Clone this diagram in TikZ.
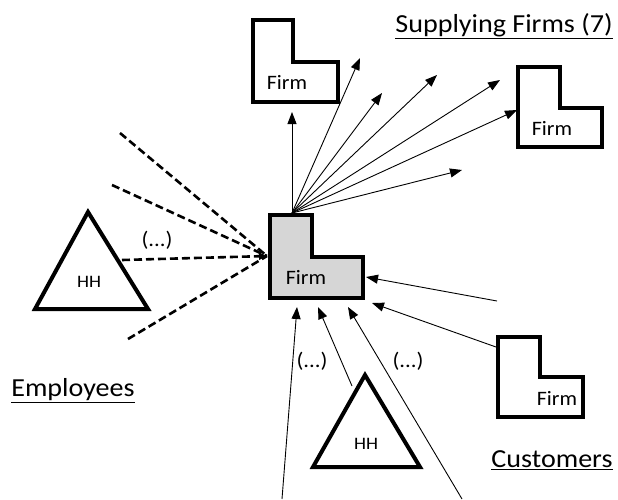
\documentclass[tikz,border=0pt]{standalone}
\usepackage{fontspec}
\setmainfont{Carlito}
\usetikzlibrary{arrows.meta}
\newcommand\hstretch[2]{\scalebox{#1}[1]{#2}}
\begin{document}
\begin{tikzpicture}[x=1pt,y=-1pt,
  firmbox/.style={draw=black,line width=4.5pt,line join=miter},
  hhtri/.style={draw=black,line width=4pt,line join=miter},
  flow/.style={line width=0.9pt,-{Triangle[length=12pt,width=9pt]}},
  dashline/.style={line width=2.6pt,dash pattern=on 8pt off 4pt},
  lbl/.style={font=\fontsize{26}{30}\selectfont,inner sep=0pt},
  firmtxt/.style={font=\fontsize{20.5}{23}\selectfont,inner sep=0pt},
  hhtxt/.style={font=\fontsize{17.5}{20}\selectfont,inner sep=0pt},
  dots/.style={font=\fontsize{21}{23}\selectfont,inner sep=0pt}]
\useasboundingbox (0,0) rectangle (618,499);
% firms
\draw[firmbox,fill=black!16] (270,215) -- (312,215) -- (312,257) -- (363,257) -- (363,298) -- (270,298) -- cycle;
\draw[firmbox] (253,20) -- (293,20) -- (293,62) -- (338,62) -- (338,102) -- (253,102) -- cycle;
\draw[firmbox] (518,67) -- (560,67) -- (560,108) -- (602,108) -- (602,147) -- (518,147) -- cycle;
\draw[firmbox] (498,337) -- (540,337) -- (540,377) -- (583,377) -- (583,417) -- (498,417) -- cycle;
\node[firmtxt] (fc) at (306,277) {\hstretch{1.07}{Firm}};
\node[firmtxt] (f1) at (287,82) {\hstretch{1.07}{Firm}};
\node[firmtxt] (f2) at (552,128) {\hstretch{1.07}{Firm}};
\node[firmtxt] (f3) at (557,398) {\hstretch{1.07}{Firm}};
% households
\draw[hhtri] (88,212) -- (148,309) -- (35,309) -- cycle;
\draw[hhtri] (365,375) -- (420,467) -- (313,467) -- cycle;
\node[hhtxt] (h1) at (89,282) {\hstretch{1.1}{HH}};
\node[hhtxt] (h2) at (366,444) {\hstretch{1.1}{HH}};
% labels
\node[lbl] (sup) at (504,26) {\hstretch{1.08}{\underline{Supplying Firms (7)}}};
\node[lbl] (emp) at (73,391) {\hstretch{1.08}{\underline{Employees}}};
\node[lbl] (cus) at (552,460) {\hstretch{1.08}{\underline{Customers}}};
\node[dots] (d1) at (157,240) {\hstretch{1.08}{(...)}};
\node[dots] (d2) at (312,361) {\hstretch{1.08}{(...)}};
\node[dots] (d3) at (408,361) {\hstretch{1.08}{(...)}};
% supplying arrows
\coordinate (ftop) at (292,213);
\coordinate (s1) at (292,112);
\coordinate (s2) at (360,58);
\coordinate (s3) at (382,93);
\coordinate (s4) at (437,75);
\coordinate (s5) at (500,80);
\coordinate (s6) at (517,110);
\coordinate (s7) at (462,170);
\foreach \t in {s1,s2,s3,s4,s5,s6,s7} \draw[flow] (ftop) -- (\t);
% dashed employees
\coordinate (fleft) at (267,256);
\coordinate (e1) at (120,133);
\coordinate (e2) at (112,185);
\coordinate (e3) at (122,260);
\coordinate (e4) at (128,339);
\draw[dashline] (e1) -- (fleft);
\draw[dashline] (e2) -- (fleft);
\draw[dashline,-{Triangle[length=8pt,width=7pt]}] (e3) -- (fleft);
\draw[dashline] (e4) -- (fleft);
% customers
\coordinate (c1) at (497,301);
\coordinate (c1t) at (366,277);
\coordinate (c2) at (496,347);
\coordinate (c2t) at (372,303);
\coordinate (c3) at (462,499);
\coordinate (c3t) at (348,307);
\coordinate (c4) at (352,386);
\coordinate (c4t) at (318,307);
\coordinate (c5) at (282,499);
\coordinate (c5t) at (297,307);
\draw[flow] (c1) -- (c1t);
\draw[flow] (c2) -- (c2t);
\draw[flow] (c3) -- (c3t);
\draw[flow] (c4) -- (c4t);
\draw[flow] (c5) -- (c5t);
\end{tikzpicture}
\end{document}
